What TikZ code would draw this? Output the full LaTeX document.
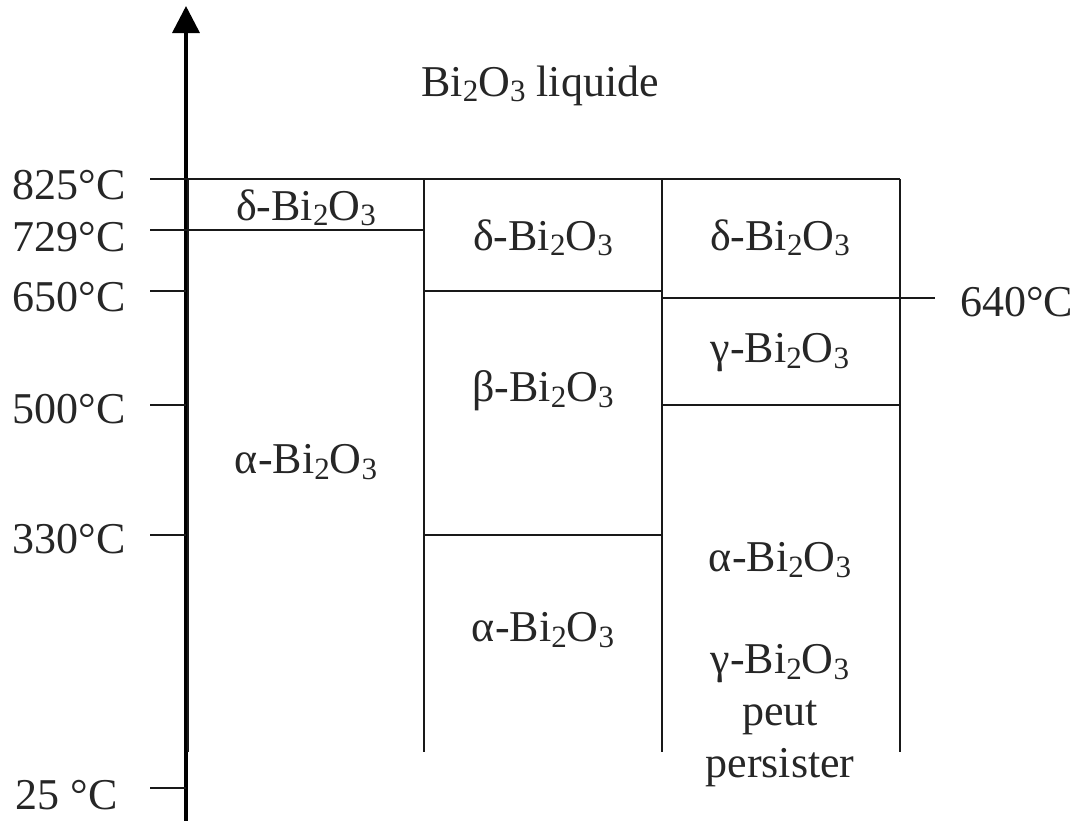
\documentclass[tikz,border=0pt]{standalone}
\usepackage{fontspec}
\setmainfont{Liberation Serif}
\usetikzlibrary{arrows.meta}
\newcommand{\sbd}[1]{\raisebox{-0.12em}{\fontsize{31}{31}\selectfont #1}}
\newcommand{\bio}{Bi\sbd{2}O\sbd{3}}
\begin{document}
\begin{tikzpicture}[x=1pt,y=-1pt,
  ln/.style={line width=2.8pt,black!90},
  lbl/.style={font=\fontsize{44}{52}\selectfont,text=black!85,inner sep=0pt},
  tl/.style={lbl,anchor=east}]
\useasboundingbox (0,0) rectangle (1083,820);
% axis
\coordinate (axb) at (186,830);
\coordinate (axt) at (186,6);
\draw[line width=3.6pt,-{Triangle[length=27pt,width=27pt]}] (axb) -- (axt);
% horizontal lines with ticks
\draw[ln] (150,179) -- (900,179);
\draw[ln] (150,230) -- (424,230);
\draw[ln] (150,291) -- (186,291);
\draw[ln] (424,291) -- (662,291);
\draw[ln] (150,405) -- (186,405);
\draw[ln] (662,405) -- (900,405);
\draw[ln] (150,535) -- (186,535);
\draw[ln] (424,535) -- (662,535);
\draw[ln] (150,788) -- (186,788);
\draw[ln] (662,298) -- (935,298);
% vertical lines
\draw[ln] (188,179) -- (188,752);
\draw[ln] (424,179) -- (424,752);
\draw[ln] (662,179) -- (662,752);
\draw[ln] (900,179) -- (900,752);
% temperature labels
\node[tl] (t825) at (126,185) {825°C};
\node[tl] (t729) at (126,237) {729°C};
\node[tl] (t650) at (126,297) {650°C};
\node[tl] (t500) at (126,409) {500°C};
\node[tl] (t330) at (126,539) {330°C};
\node[tl] (t25) at (118,795) {25 °C};
\node[lbl,anchor=west] (t640) at (960,302) {640°C};
% phase labels
\node[lbl] (liq) at (540,86) {\bio{} liquide};
\node[lbl] (c1d) at (306,208) {δ-\bio};
\node[lbl] (c1a) at (306,462) {α-\bio};
\node[lbl] (c2d) at (543,238) {δ-\bio};
\node[lbl] (c2b) at (543,391) {β-\bio};
\node[lbl] (c2a) at (543,630) {α-\bio};
\node[lbl] (c3d) at (780,238) {δ-\bio};
\node[lbl] (c3g) at (780,353) {γ-\bio};
\node[lbl] (c3a) at (780,560) {α-\bio};
\node[lbl,align=center] (c3p) at (780,716) {γ-\bio\\peut\\persister};
\end{tikzpicture}
\end{document}
